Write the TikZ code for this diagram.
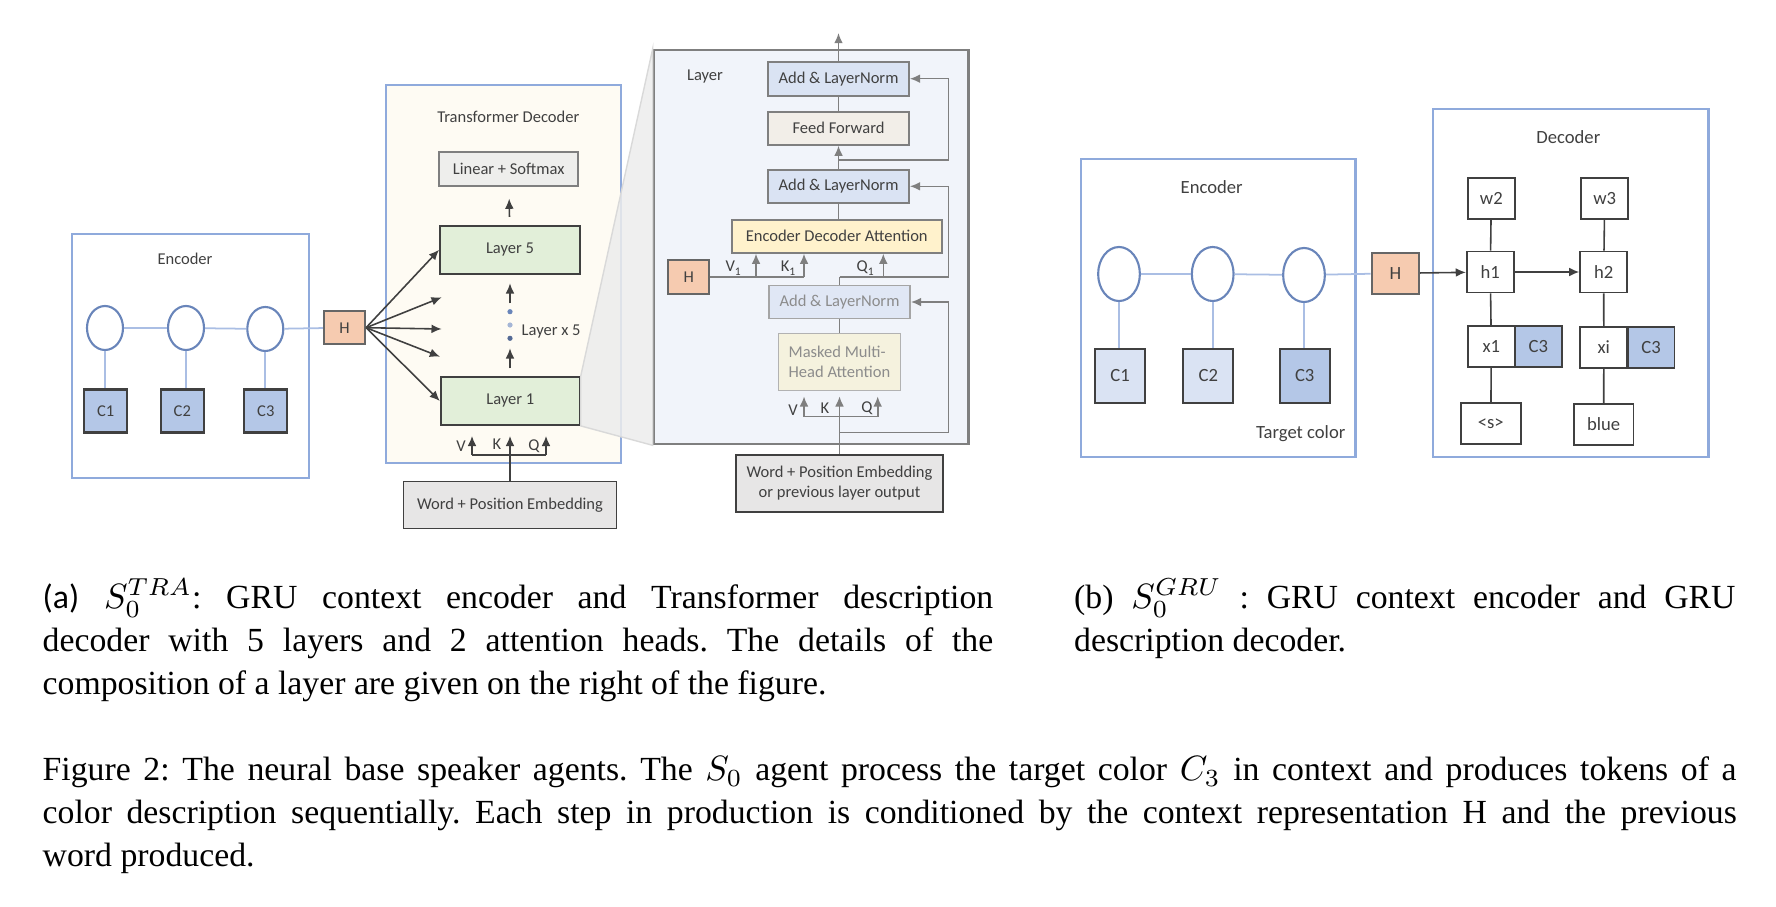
\documentclass[tikz,border=0pt]{standalone}
\usepackage{fontspec}
\setmainfont{Liberation Serif}
\newfontfamily\calib{Carlito}
\usetikzlibrary{arrows.meta,shapes.geometric}

\definecolor{encline}{RGB}{143,170,220}
\definecolor{cellline}{RGB}{105,133,186}
\definecolor{wirec}{RGB}{170,190,228}
\definecolor{cfill}{RGB}{180,199,231}
\definecolor{cpale}{RGB}{218,227,243}
\definecolor{hfill}{RGB}{246,203,176}
\definecolor{tdfill}{RGB}{254,251,243}
\definecolor{lyfill}{RGB}{226,239,217}
\definecolor{gfill}{RGB}{231,230,230}
\definecolor{lsfill}{RGB}{238,238,236}
\definecolor{bgfill}{RGB}{241,244,250}
\definecolor{anfill}{RGB}{218,227,243}
\definecolor{fffill}{RGB}{242,238,232}
\definecolor{edfill}{RGB}{255,242,204}
\definecolor{mmfill}{RGB}{245,242,222}
\definecolor{txt}{RGB}{64,64,64}
\definecolor{fade}{RGB}{140,140,140}
\definecolor{frameg}{RGB}{127,127,127}

\newcommand{\figa}{\calib\fontsize{4.7}{5.6}\selectfont}
\newcommand{\figb}{\calib\fontsize{5.3}{6.3}\selectfont}

\tikzset{
  panel/.style={draw=encline, line width=0.7pt, inner sep=0pt},
  cell/.style={ellipse, draw=cellline, line width=0.6pt, fill=white, inner sep=0pt},
  wire/.style={draw=wirec, line width=0.5pt},
  colbox/.style={draw=txt, line width=0.6pt, fill=cfill, inner sep=0pt, text=txt},
  hbox/.style={draw=txt!80, line width=0.6pt, fill=hfill, inner sep=0pt, text=txt},
  block/.style={draw=frameg, line width=0.5pt, inner sep=0pt, text=txt, align=center},
  wbox/.style={draw=txt, line width=0.5pt, fill=white, inner sep=0pt, text=txt, font=\figb, minimum width=0.47cm, minimum height=0.41cm},
  arr/.style={-{Latex[length=2.9pt,width=2.5pt]}},
  gline/.style={draw=frameg, line width=0.45pt},
  kline/.style={draw=txt, line width=0.45pt},
  lbl/.style={inner sep=0pt, text=txt},
  captext/.style={anchor=north west, inner sep=0pt, align=justify, font=\fontsize{9.6}{12.2}\selectfont\frenchspacing},
}

\begin{document}
\begin{tikzpicture}[x=0.01cm,y=-0.01cm]
\useasboundingbox (0,0) rectangle (1776,906);

\node[panel, minimum width=2.37cm, minimum height=2.44cm] (encA) at (190.5,356) {};
\node[lbl, font=\figa] (encAt) at (185,259) {Encoder};
\node[cell, minimum width=0.36cm, minimum height=0.44cm] (eA1) at (105,328) {};
\node[cell, minimum width=0.36cm, minimum height=0.44cm] (eA2) at (186,328) {};
\node[cell, minimum width=0.36cm, minimum height=0.44cm] (eA3) at (265.3,329) {};
\node[colbox, minimum size=0.43cm, font=\figa] (cA1) at (105.7,411) {C1};
\node[colbox, minimum size=0.43cm, font=\figa] (cA2) at (182.3,411) {C2};
\node[colbox, minimum size=0.43cm, font=\figa] (cA3) at (265.8,411) {C3};
\node[hbox, minimum width=0.41cm, minimum height=0.33cm, font=\figa] (hA) at (344.5,327.7) {H};
\draw[wire] (eA1) -- (eA2) -- (eA3) -- (hA);
\draw[wire] (eA1.south) -- (eA1.south |- cA1.north);
\draw[wire] (eA2.south) -- (eA2.south |- cA2.north);
\draw[wire] (eA3.south) -- (eA3.south |- cA3.north);

\node[draw=encline, fill=tdfill, line width=0.7pt, minimum width=2.35cm, minimum height=3.78cm] (td) at (503.5,274) {};
\node[lbl, font=\figa] (tdt) at (508.3,116.7) {Transformer Decoder};
\node[draw=frameg, fill=bgfill, line width=0.7pt, minimum width=3.143cm, minimum height=3.94cm] (layer) at (811.2,247) {};
\node[block, fill=lsfill, minimum width=1.39cm, minimum height=0.34cm, font=\figa] (lin) at (508.7,168.7) {Linear + Softmax};
\node[block, draw=txt, fill=lyfill, minimum width=1.40cm, minimum height=0.48cm, font=\figa] (l5) at (510,249.8) {Layer 5};
\node[block, draw=txt, fill=lyfill, minimum width=1.39cm, minimum height=0.48cm, font=\figa] (l1) at (510.3,401) {Layer 1};
\fill[gray!15, fill opacity=0.85, draw=gray!30, line width=0.4pt] (l1.north east) -- (layer.north west) -- (layer.south west) -- (l1.south east) -- cycle;
\node[block, draw=txt, fill=gfill, minimum width=2.13cm, minimum height=0.47cm, font=\figa] (embA) at (510,505) {Word + Position Embedding};

\coordinate (f2) at (441.7,297.3);
\coordinate (f3) at (441.7,329);
\coordinate (f4) at (440,356.7);
\foreach \t in {l5.west,f2,f3,f4,l1.west}
  \draw[kline,arr] (hA.east) -- (\t);

\draw[kline,arr,shorten <=0.08cm,shorten >=0.12cm] (l5) -- (lin);
\coordinate (dt) at (510,303.3);
\coordinate (db) at (510,368.3);
\draw[kline,arr] (dt) -- ++(0,-20);
\draw[kline,arr] (db) -- ++(0,-20);
\fill[cellline] (510,311.7) circle (2.6);
\fill[cellline!60] (510,325) circle (2.6);
\fill[cellline!80!black] (510,338.3) circle (2.6);
\node[lbl, font=\figa, anchor=west] (lx5) at (521,331.7) {Layer x 5};

\coordinate (vA) at (472,455);
\coordinate (kA) at (510,455);
\coordinate (qA) at (546,455);
\draw[kline] (vA) -- (qA);
\draw[kline] (embA) -- (kA);
\foreach \p in {vA,kA,qA}
  \draw[kline,arr,shorten >=0.1cm] (\p) -- (\p |- l1.south);
\node[lbl, font=\figa] (vAt) at (461,446) {V};
\node[lbl, font=\figa] (kAt) at (497,444) {K};
\node[lbl, font=\figa] (qAt) at (534,446) {Q};

\node[lbl, font=\figa] (layert) at (705,76.7) {Layer};
\node[block, fill=anfill, minimum width=1.41cm, minimum height=0.34cm, font=\figa] (add1) at (838.5,78.7) {Add \& LayerNorm};
\node[block, fill=fffill, minimum width=1.41cm, minimum height=0.33cm, font=\figa] (ff) at (838.5,128.3) {Feed Forward};
\node[block, fill=anfill, minimum width=1.41cm, minimum height=0.33cm, font=\figa] (add2) at (838.5,186.3) {Add \& LayerNorm};
\node[block, fill=edfill, minimum width=2.10cm, minimum height=0.33cm, font=\figa] (eda) at (836.7,236.3) {Encoder Decoder Attention};
\node[block, fill=anfill!85!white, draw=frameg!70, text=fade, minimum width=1.41cm, minimum height=0.33cm, font=\figa] (add3) at (839.5,302) {Add \& LayerNorm};
\node[block, fill=mmfill, draw=frameg!60, text=fade, align=left, minimum width=1.22cm, minimum height=0.57cm, font=\figa] (mmha) at (839.5,362) {Masked Multi-\\Head Attention};
\node[block, draw=txt, fill=gfill, minimum width=2.07cm, minimum height=0.57cm, font=\figa] (embB) at (839.5,483.3) {Word + Position Embedding\\or previous layer output};
\node[hbox, minimum width=0.41cm, minimum height=0.34cm, font=\figa] (hL) at (688.8,277) {H};

\coordinate (outL) at (838.5,33);
\draw[gline,arr] (add1) -- (outL);
\draw[gline] (add1) -- (ff);
\draw[gline,arr] (add2) -- (ff);
\coordinate (r1) at (838.5,160);
\draw[gline,arr] (r1) -- ++(110,0) |- (add1.east);
\draw[gline] (add2) -- (add2 |- eda.north);

\coordinate (v1) at (756,277);
\coordinate (k1) at (804,277);
\coordinate (q1) at (839.5,277);
\coordinate (q1a) at (883.3,277);
\draw[gline] (hL.east) -- (k1);
\foreach \p in {v1,k1,q1a}
  \draw[gline,arr] (\p) -- (\p |- eda.south);
\draw[gline] (add3) -- (q1);
\draw[gline,arr] (q1) -- ++(109,0) |- (add2.east);
\node[lbl, font=\figa] (v1t) at (734,268.3) {V\textsubscript{1}};
\node[lbl, font=\figa] (k1t) at (789,268.3) {K\textsubscript{1}};
\node[lbl, font=\figa] (q1t) at (866,268.3) {Q\textsubscript{1}};

\draw[gline] (add3) -- (mmha);
\coordinate (vB) at (804,416.7);
\coordinate (kB) at (839.5,416.7);
\coordinate (qB) at (877.7,416.7);
\draw[gline] (vB) -- (qB);
\foreach \p in {vB,kB,qB}
  \draw[gline,arr,shorten >=0.05cm] (\p) -- (\p |- mmha.south);
\draw[gline] (embB) -- (kB);
\coordinate (r3) at (839.5,432.3);
\draw[gline,arr] (r3) -- ++(109,0) |- (add3.east);
\node[lbl, font=\figa] (vBt) at (793,410) {V};
\node[lbl, font=\figa] (kBt) at (825,408.3) {K};
\node[lbl, font=\figa] (qBt) at (867,408.3) {Q};

\node[panel, minimum width=2.743cm, minimum height=2.98cm] (encB) at (1218.2,308) {};
\node[lbl, font=\figb] (encBt) at (1211.7,187.3) {Encoder};
\node[cell, minimum width=0.417cm, minimum height=0.54cm] (eB1) at (1119,274) {};
\node[cell, minimum width=0.417cm, minimum height=0.54cm] (eB2) at (1212.7,274) {};
\node[cell, minimum width=0.417cm, minimum height=0.54cm] (eB3) at (1304,275) {};
\node[colbox, fill=cpale, minimum width=0.50cm, minimum height=0.537cm, font=\figb] (cB1) at (1120,375.8) {C1};
\node[colbox, fill=cpale, minimum width=0.50cm, minimum height=0.537cm, font=\figb] (cB2) at (1208.3,375.8) {C2};
\node[colbox, minimum width=0.50cm, minimum height=0.537cm, font=\figb] (cB3) at (1304.7,375.8) {C3};
\node[lbl, font=\figb] (tgt) at (1300.7,433.3) {Target color};
\node[hbox, minimum width=0.473cm, minimum height=0.413cm, font=\figb] (hB) at (1395.3,273.3) {H};
\draw[wire] (eB1) -- (eB2) -- (eB3) -- (hB);
\draw[wire] (eB1.south) -- (eB1.south |- cB1.north);
\draw[wire] (eB2.south) -- (eB2.south |- cB2.north);
\draw[wire] (eB3.south) -- (eB3.south |- cB3.north);

\node[panel, minimum width=2.75cm, minimum height=3.477cm] (decB) at (1570.8,283.2) {};
\node[lbl, font=\figb] (decBt) at (1568.3,137.3) {Decoder};
\node[wbox] (w2) at (1491.3,198.2) {w2};
\node[wbox] (w3) at (1604.7,198.8) {w3};
\node[wbox] (h1) at (1490.3,272) {h1};
\node[wbox] (h2) at (1603.7,272) {h2};
\node[wbox] (x1) at (1491.3,346.3) {x1};
\node[wbox, fill=cfill, minimum width=0.467cm] (c3a) at (1538.3,346.3) {C3};
\node[wbox] (xi) at (1603.8,347.2) {xi};
\node[wbox, fill=cfill, minimum width=0.467cm] (c3b) at (1651,347.2) {C3};
\node[wbox, minimum width=0.597cm] (bos) at (1490.8,423.7) {<s>};
\node[wbox, minimum width=0.597cm] (blue) at (1603.7,424.5) {blue};
\draw[kline] (w2) -- (h1) -- (x1) -- (bos);
\draw[kline] (w3) -- (h2) -- (xi) -- (blue);
\draw[kline,arr] (hB) -- (h1);
\draw[kline,arr] (h1) -- (h2);

\node[captext, text width=9.5cm] (capA) at (42,578) {\noindent{\calib(a)} $S_0^{TRA}$: GRU context encoder and Transformer description\linebreak decoder with 5 layers and 2 attention heads. The details of the\linebreak composition of a layer are given on the right of the figure.};
\node[captext, text width=6.61cm] (capB) at (1073.5,578) {\noindent(b) $S_0^{GRU}$ : GRU context encoder and GRU\linebreak description decoder.};
\node[captext, text width=16.93cm] (capF) at (42,756) {\noindent Figure 2: The neural base speaker agents. The $S_0$ agent process the target color $C_3$ in context and produces tokens of a\linebreak color description sequentially. Each step in production is conditioned by the context representation H and the previous\linebreak word produced.};
\end{tikzpicture}
\end{document}
